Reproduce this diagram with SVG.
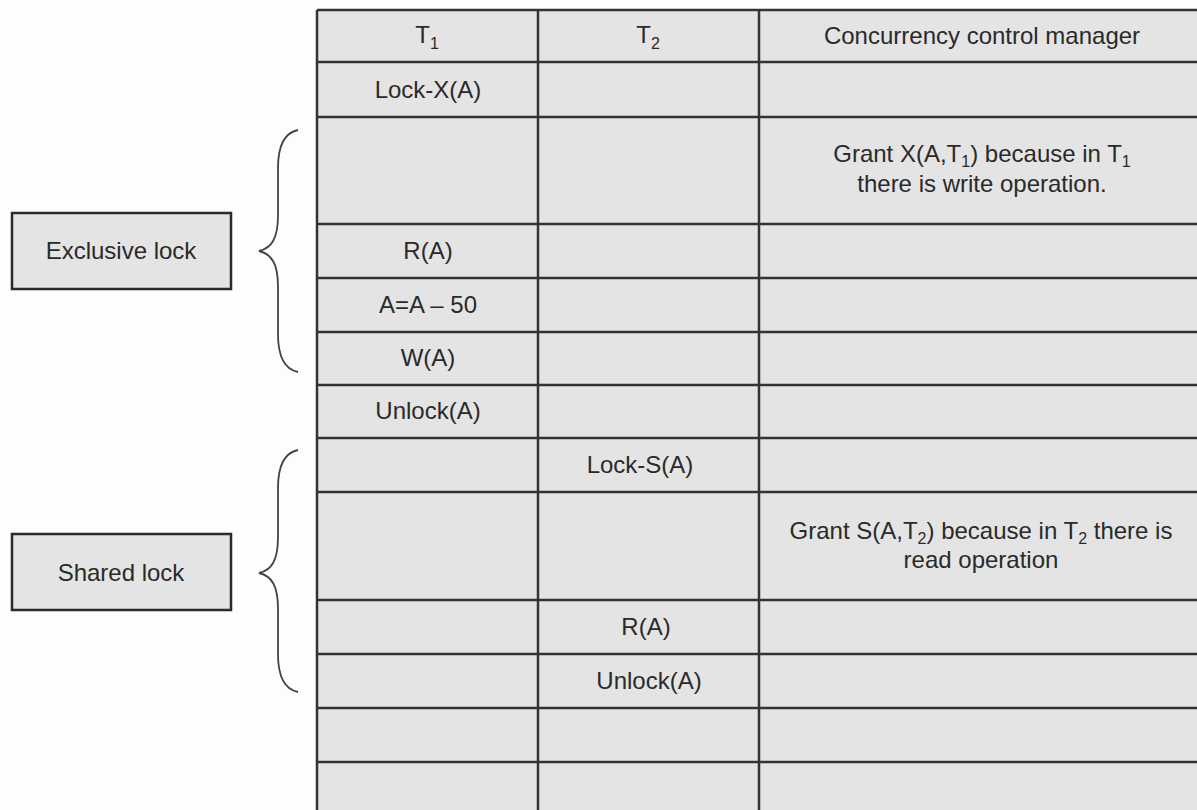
<svg xmlns="http://www.w3.org/2000/svg" width="1197" height="810" viewBox="0 0 1197 810">
<style>
.t{font-family:"Liberation Sans",Arial,sans-serif;font-size:24px;fill:#2a2a2a;text-anchor:middle}
.s{font-size:16px}
.g{stroke:#333;stroke-width:2.5;fill:none}
.box{fill:#e4e4e4;stroke:#2a2a2a;stroke-width:2.5}
.br{fill:none;stroke:#444;stroke-width:1.8}
</style>
<rect width="1197" height="810" fill="#fdfdfd"/>
<g id="table">
<rect x="317" y="10" width="900" height="810" fill="#e4e4e4"/>
<g class="g">
<line x1="317" y1="10" x2="1210" y2="10"/>
<line x1="317" y1="62" x2="1210" y2="62"/>
<line x1="317" y1="117" x2="1210" y2="117"/>
<line x1="317" y1="224" x2="1210" y2="224"/>
<line x1="317" y1="278" x2="1210" y2="278"/>
<line x1="317" y1="332" x2="1210" y2="332"/>
<line x1="317" y1="385" x2="1210" y2="385"/>
<line x1="317" y1="438" x2="1210" y2="438"/>
<line x1="317" y1="492" x2="1210" y2="492"/>
<line x1="317" y1="600" x2="1210" y2="600"/>
<line x1="317" y1="654" x2="1210" y2="654"/>
<line x1="317" y1="708" x2="1210" y2="708"/>
<line x1="317" y1="762" x2="1210" y2="762"/>
<line x1="317" y1="10" x2="317" y2="820"/>
<line x1="538" y1="10" x2="538" y2="820"/>
<line x1="759" y1="10" x2="759" y2="820"/>
</g>
<text class="t" x="427" y="43">T<tspan class="s" dy="6">1</tspan></text>
<text class="t" x="648" y="43">T<tspan class="s" dy="6">2</tspan></text>
<text class="t" x="982" y="44">Concurrency control manager</text>
<text class="t" x="428" y="98">Lock-X(A)</text>
<text class="t" x="982" y="162">Grant X(A,T<tspan class="s" dy="5">1</tspan><tspan dy="-5">) because in T</tspan><tspan class="s" dy="5">1</tspan></text>
<text class="t" x="982" y="192">there is write operation.</text>
<text class="t" x="428" y="259">R(A)</text>
<text class="t" x="428" y="313">A=A – 50</text>
<text class="t" x="428" y="366">W(A)</text>
<text class="t" x="428" y="419">Unlock(A)</text>
<text class="t" x="640" y="473">Lock-S(A)</text>
<text class="t" x="981" y="539">Grant S(A,T<tspan class="s" dy="5">2</tspan><tspan dy="-5">) because in T</tspan><tspan class="s" dy="5">2</tspan><tspan dy="-5"> there is</tspan></text>
<text class="t" x="981" y="568">read operation</text>
<text class="t" x="646" y="635">R(A)</text>
<text class="t" x="649" y="689">Unlock(A)</text>
</g>
<g id="exclusive">
<rect class="box" x="12" y="213" width="219" height="76"/>
<text class="t" x="121" y="259">Exclusive lock</text>
</g>
<g id="shared">
<rect class="box" x="12" y="534" width="219" height="76"/>
<text class="t" x="121" y="581">Shared lock</text>
</g>
<g id="connectors">
<path class="br" d="M298,130 C283,133 278,148 278,168 L278,215 C278,238 272,248 259,251 C272,254 278,264 278,287 L278,334 C278,354 283,369 298,372"/>
<path class="br" d="M298,450 C283,453 278,468 278,488 L278,537 C278,560 272,570 259,573 C272,576 278,586 278,609 L278,654 C278,674 283,689 298,692"/>
</g>
</svg>
